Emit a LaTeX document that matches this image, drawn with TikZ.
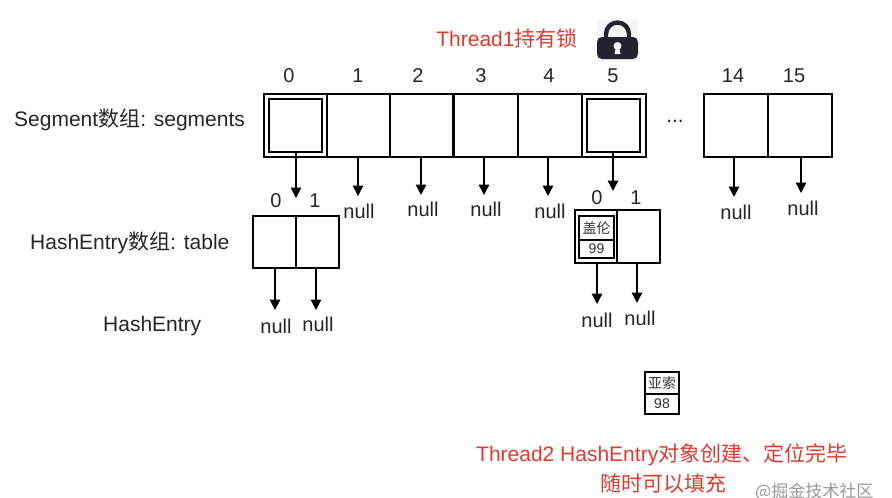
\documentclass[tikz,border=0pt]{standalone}
\usepackage{fontspec}
\setmainfont{Liberation Sans}
\newfontfamily\cjk{Noto Sans CJK SC}
\usetikzlibrary{arrows.meta}
\definecolor{redlabel}{RGB}{224,58,48}
\definecolor{lockdark}{RGB}{34,35,47}
\tikzset{
  x=1pt,y=-1pt,
  cell/.style={draw=black,line width=2.4pt,fill=white,inner sep=0pt,outer sep=0pt,anchor=north west},
  inner cell/.style={draw=black,line width=2.6pt,inner sep=0pt,outer sep=0pt,anchor=north west,minimum width=53pt,minimum height=53pt},
  small cell/.style={draw=black,line width=1.4pt,inner sep=0pt,outer sep=0pt,anchor=north west,font=\fontsize{14}{14}\selectfont,text=black!80},
  lab/.style={inner sep=0pt,font=\fontsize{21}{23}\selectfont,text=black!85},
  idx/.style={lab,font=\fontsize{20}{22}\selectfont},
  nulltxt/.style={lab,font=\fontsize{20}{22}\selectfont},
  redtxt/.style={inner sep=0pt,font=\fontsize{21}{25}\selectfont,text=redlabel,align=center},
  arr/.style={draw=black,line width=1.5pt,-{Triangle[length=10.5pt,width=10.5pt]}},
}
\begin{document}
\begin{tikzpicture}
\useasboundingbox[fill=white] (0,0) rectangle (892,498);
% Segment array
\node[cell,minimum width=63pt,minimum height=63pt] (s0) at (264,94) {};
\node[cell,minimum width=63pt,minimum height=63pt] (s1) at (327,94) {};
\node[cell,minimum width=63pt,minimum height=63pt] (s2) at (390,94) {};
\node[cell,minimum width=64pt,minimum height=63pt] (s3) at (454,94) {};
\node[cell,minimum width=64pt,minimum height=63pt] (s4) at (518,94) {};
\node[cell,minimum width=64pt,minimum height=63pt] (s5) at (582,94) {};
\node[cell,minimum width=64pt,minimum height=63pt] (s14) at (704,94) {};
\node[cell,minimum width=64pt,minimum height=63pt] (s15) at (768,94) {};
\node[inner cell] (i0) at (269,99) {};
\node[inner cell] (i5) at (587,99) {};
% indices
\node[idx] (n0) at (289,76) {0};
\node[idx] (n1) at (358,76) {1};
\node[idx] (n2) at (418,76) {2};
\node[idx] (n3) at (481,76) {3};
\node[idx] (n4) at (549,76) {4};
\node[idx] (n5) at (613,76) {5};
\node[idx] (n14) at (733,76) {14};
\node[idx] (n15) at (794,76) {15};
\node[lab] (dots) at (675,121) {...};
% labels
\node[lab,anchor=west] (segl) at (14,120) {Segment{\cjk 数组}: segments};
\node[lab,anchor=west] (hel) at (30,243) {HashEntry{\cjk 数组}: table};
\node[lab,anchor=west] (he) at (103,326) {HashEntry};
\node[redtxt] (t1) at (507,38) {Thread1{\cjk 持有锁}};
\node[redtxt,anchor=west] (t2a) at (476,455) {Thread2 HashEntry{\cjk 对象创建、定位完毕}};
\node[redtxt] (t2b) at (663,484) {{\cjk 随时可以填充}};
\node[inner sep=0pt,font=\cjk\fontsize{17}{18}\selectfont,text=black!40,anchor=west] (wm) at (755,492) {@掘金技术社区};
% lock
\fill[black!4] (597,20) rectangle (637,61);
\draw[line width=4.4pt,draw=lockdark] (606,42) -- (606,34) arc[start angle=180,end angle=0,radius=11.5pt] -- (629,42);
\fill[lockdark,rounded corners=5pt] (597,37) rectangle (638,59);
\fill[black!4] (617.5,46) circle[radius=4pt];
\fill[black!4] (616,47) -- (619,47) -- (620.5,54) -- (614.5,54) -- cycle;
% left table
\node[cell,minimum width=43pt,minimum height=52pt] (ta) at (253,216) {};
\node[cell,minimum width=43pt,minimum height=52pt] (tb) at (296,216) {};
\node[idx] (ta0) at (276,201) {0};
\node[idx] (tb1) at (315,201) {1};
% right table
\node[cell,minimum width=42pt,minimum height=53pt] (tc) at (575,210) {};
\node[cell,minimum width=43pt,minimum height=53pt] (td) at (617,210) {};
\node[idx] (tc0) at (597,198) {0};
\node[idx] (td1) at (636,198) {1};
\node[small cell,minimum width=35pt,minimum height=24pt] (ga) at (579,216) {\cjk 盖伦};
\node[small cell,minimum width=35pt,minimum height=18pt] (gb) at (579,240) {99};
\draw[draw=black,line width=2.6pt] (579,216) rectangle (614,258);
% loose entry
\node[small cell,minimum width=34pt,minimum height=22pt] (ya) at (645,372) {\cjk 亚索};
\node[small cell,minimum width=34pt,minimum height=20pt] (yb) at (645,394) {98};
\draw[draw=black,line width=2.6pt] (645,372) rectangle (679,414);
% null labels
\node[nulltxt] (nu1) at (359,211) {null};
\node[nulltxt] (nu2) at (423,209) {null};
\node[nulltxt] (nu3) at (486,209) {null};
\node[nulltxt] (nu4) at (550,211) {null};
\node[nulltxt] (nu14) at (736,212) {null};
\node[nulltxt] (nu15) at (803,208) {null};
\node[nulltxt] (nua) at (276,326) {null};
\node[nulltxt] (nub) at (318,324) {null};
\node[nulltxt] (nuc) at (597,320) {null};
\node[nulltxt] (nud) at (640,318) {null};
% arrow ends
\coordinate (e0) at (296,198);
\coordinate (e1) at (358,196);
\coordinate (e2) at (421,195);
\coordinate (e3) at (484,195);
\coordinate (e4) at (548,196);
\coordinate (e5) at (613,191);
\coordinate (e14) at (734,197);
\coordinate (e15) at (801,193);
\coordinate (ea) at (275,310);
\coordinate (eb) at (316,310);
\coordinate (ec) at (597,304);
\coordinate (ed) at (637,303);
\draw[arr] (e0 |- i0.south) -- (e0);
\draw[arr] (e1 |- s1.south) -- (e1);
\draw[arr] (e2 |- s2.south) -- (e2);
\draw[arr] (e3 |- s3.south) -- (e3);
\draw[arr] (e4 |- s4.south) -- (e4);
\draw[arr] (e5 |- i5.south) -- (e5);
\draw[arr] (e14 |- s14.south) -- (e14);
\draw[arr] (e15 |- s15.south) -- (e15);
\draw[arr] (ea |- ta.south) -- (ea);
\draw[arr] (eb |- tb.south) -- (eb);
\draw[arr] (ec |- tc.south) -- (ec);
\draw[arr] (ed |- td.south) -- (ed);
\end{tikzpicture}
\end{document}
